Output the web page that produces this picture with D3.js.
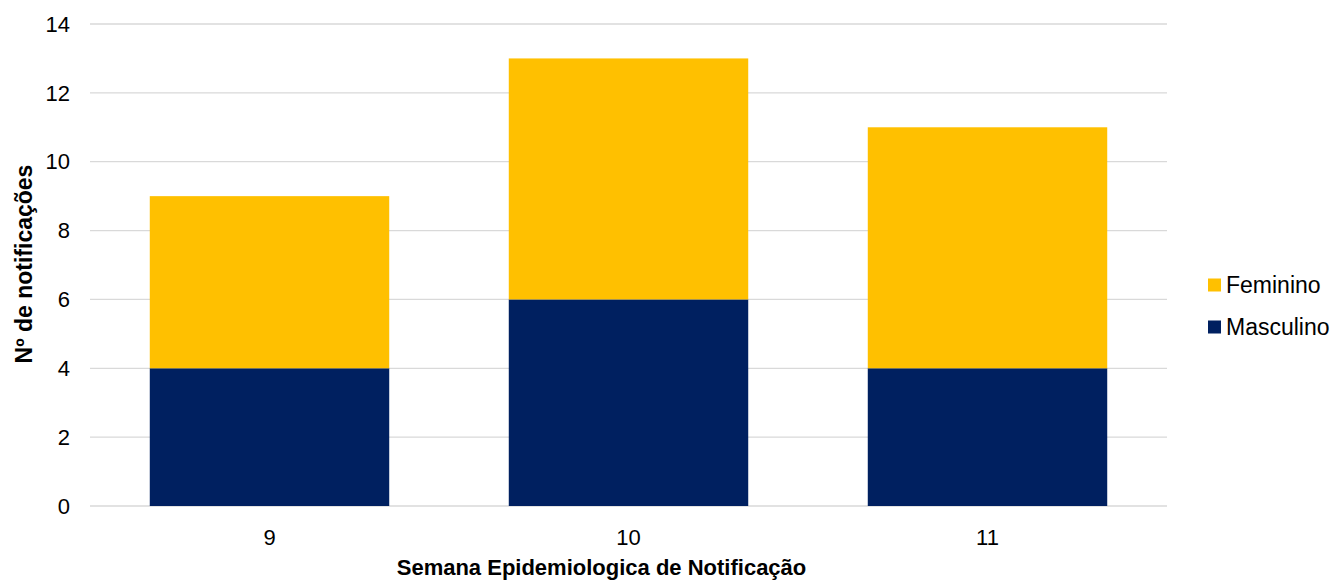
<!DOCTYPE html>
<html>
<head>
<meta charset="utf-8">
<script src="https://cdn.jsdelivr.net/npm/d3@7"></script>
<style>
  body { margin: 0; background: #fff; }
  text { font-family: "Liberation Sans", Arial, sans-serif; }
</style>
</head>
<body>
<div id="chart"></div>
<script>
// dados
const semanas = ["9", "10", "11"];
const masculino = [4, 6, 4];
const feminino = [5, 7, 7];
const series = ["Masculino", "Feminino"];
const cores = ["#002060", "#FFC000"];
const yTicks = [0, 2, 4, 6, 8, 10, 12, 14];

const W = 1334, H = 583;
const m = { left: 90, right: 167, top: 24, bottom: 77 };

const svg = d3.select("#chart").append("svg")
    .attr("width", W).attr("height", H);

const x = d3.scaleBand().domain(semanas)
    .range([m.left, W - m.right]).paddingInner(0.333).paddingOuter(0.1665);
const y = d3.scaleLinear().domain([0, 14]).range([H - m.bottom, m.top]);

// linhas de grade
svg.append("g").selectAll("line").data(yTicks).enter()
    .append("line")
    .attr("x1", m.left).attr("x2", W - m.right)
    .attr("y1", d => y(d)).attr("y2", d => y(d))
    .attr("stroke", "#d9d9d9").attr("stroke-width", 1.3);

// rótulos eixo y
svg.append("g").selectAll("text").data(yTicks).enter()
    .append("text")
    .attr("x", 70).attr("y", d => y(d))
    .attr("dy", "0.35em")
    .attr("text-anchor", "end")
    .attr("font-size", 22).attr("fill", "#000")
    .text(d => d);

// barras empilhadas
const rows = semanas.map((s, i) => ({ semana: s, Masculino: masculino[i], Feminino: feminino[i] }));
const stack = d3.stack().keys(series)(rows);

svg.append("g").selectAll("g").data(stack).enter()
    .append("g").attr("fill", (d, i) => cores[i])
    .selectAll("rect").data(d => d).enter()
    .append("rect")
    .attr("x", d => x(d.data.semana))
    .attr("width", x.bandwidth())
    .attr("y", d => y(d[1]))
    .attr("height", d => y(d[0]) - y(d[1]));

// rótulos eixo x
svg.append("g").selectAll("text").data(semanas).enter()
    .append("text")
    .attr("x", d => x(d) + x.bandwidth() / 2)
    .attr("y", H - m.bottom + 31)
    .attr("dy", "0.35em")
    .attr("text-anchor", "middle")
    .attr("font-size", 22).attr("fill", "#000")
    .text(d => d);

// títulos dos eixos
svg.append("text")
    .attr("x", (m.left + W - m.right) / 2 - 27).attr("y", 575)
    .attr("text-anchor", "middle")
    .attr("font-size", 22).attr("font-weight", "bold")
    .text("Semana Epidemiologica de Notificação");

svg.append("text")
    .attr("transform", "translate(32,264) rotate(-90)")
    .attr("text-anchor", "middle")
    .attr("font-size", 23).attr("font-weight", "bold")
    .text("Nº de notificações");

// legenda
const legenda = ["Feminino", "Masculino"];
const legCores = ["#FFC000", "#002060"];
const leg = svg.append("g").selectAll("g").data(legenda).enter()
    .append("g")
    .attr("transform", (d, i) => "translate(1208," + (285 + i * 42) + ")");
leg.append("rect")
    .attr("x", 0).attr("y", -6.5).attr("width", 13).attr("height", 13)
    .attr("fill", (d, i) => legCores[i]);
leg.append("text")
    .attr("x", 18).attr("dy", "0.35em")
    .attr("font-size", 23).attr("fill", "#000")
    .text(d => d);
</script>
</body>
</html>
